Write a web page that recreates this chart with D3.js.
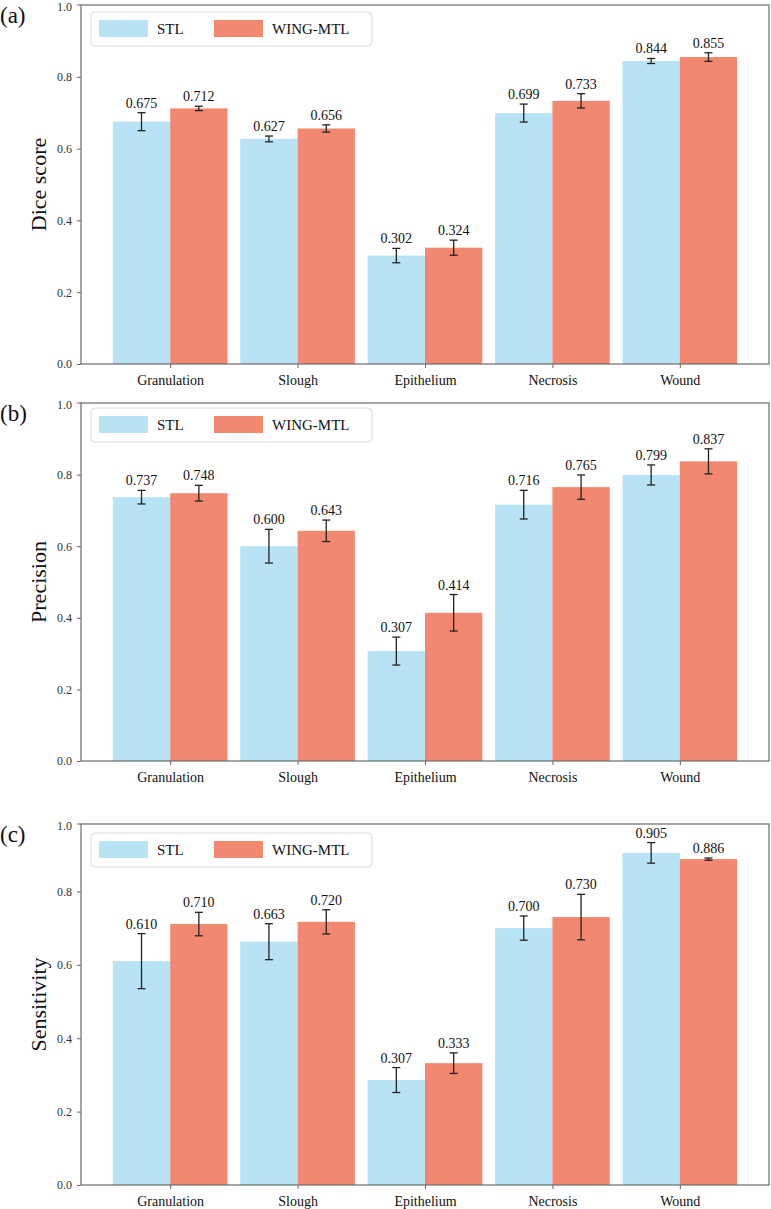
<!DOCTYPE html>
<html>
<head>
<meta charset="utf-8">
<script src="https://cdn.jsdelivr.net/npm/d3@7"></script>
<style>
  body { margin: 0; background: #fff; }
  svg { display: block; }
  svg text { font-family: "Liberation Serif", "Times New Roman", Times, serif; }
</style>
</head>
<body>
<div id="chart"></div>
<script>
// categories + series
const categories = ['Granulation', 'Slough', 'Epithelium', 'Necrosis', 'Wound'];
const seriesNames = ['STL', 'WING-MTL'];

// (a) dice score
const diceStl = [0.675, 0.627, 0.302, 0.699, 0.844];
const diceStlErr = [0.025, 0.008, 0.020, 0.025, 0.007];
const diceMtl = [0.712, 0.656, 0.324, 0.733, 0.855];
const diceMtlErr = [0.006, 0.010, 0.021, 0.020, 0.012];

// (b) precision
const precStl = [0.737, 0.600, 0.307, 0.716, 0.799];
const precStlErr = [0.019, 0.047, 0.039, 0.040, 0.028];
const precMtl = [0.748, 0.643, 0.414, 0.765, 0.837];
const precMtlErr = [0.022, 0.030, 0.051, 0.034, 0.035];

// (c) sensitivity - bar heights as drawn, printed labels kept separately
const sensStl = [0.610, 0.663, 0.286, 0.700, 0.905];
const sensStlErr = [0.075, 0.049, 0.034, 0.033, 0.028];
const sensStlLabels = ['0.610', '0.663', '0.307', '0.700', '0.905'];
const sensMtl = [0.711, 0.717, 0.332, 0.730, 0.888];
const sensMtlErr = [0.032, 0.033, 0.028, 0.062, 0.003];
const sensMtlLabels = ['0.710', '0.720', '0.333', '0.730', '0.886'];

const yTicks = [0, 0.2, 0.4, 0.6, 0.8, 1.0];

const colors = ['#b7e3f4', '#f2886f'];
const fmt = d3.format('.3f');

const width = 771;
const height = 1209;

const svg = d3.select('#chart')
    .append('svg')
    .attr('width', width)
    .attr('height', height);

// shared x scale, matplotlib-like xlim
const x = d3.scaleLinear()
    .domain([-0.7, 4.7])
    .range([81, 769]);
const barW = 0.45;

const panels = [
    {
        tag: '(a)', title: 'Dice score', frameTop: 5, yTop: 5, yBottom: 364, legendTop: 12,
        series: [
            { vals: diceStl, err: diceStlErr, labels: diceStl.map(fmt) },
            { vals: diceMtl, err: diceMtlErr, labels: diceMtl.map(fmt) }
        ]
    },
    {
        tag: '(b)', title: 'Precision', frameTop: 403, yTop: 403, yBottom: 761, legendTop: 408,
        series: [
            { vals: precStl, err: precStlErr, labels: precStl.map(fmt) },
            { vals: precMtl, err: precMtlErr, labels: precMtl.map(fmt) }
        ]
    },
    {
        // this panel is cropped at the top in the original
        tag: '(c)', title: 'Sensitivity', frameTop: 824, yTop: 818, yBottom: 1185, legendTop: 833,
        series: [
            { vals: sensStl, err: sensStlErr, labels: sensStlLabels },
            { vals: sensMtl, err: sensMtlErr, labels: sensMtlLabels }
        ]
    }
];

panels.forEach(p => {
    const g = svg.append('g');

    const y = d3.scaleLinear()
        .domain([0, 1])
        .range([p.yBottom, p.yTop]);

    p.series.forEach((s, si) => {
        const off = si === 0 ? -barW / 2 : barW / 2;

        // bars
        g.append('g').selectAll('rect')
            .data(categories)
            .enter()
            .append('rect')
            .attr('x', (d, i) => x(i + off - barW / 2))
            .attr('width', x(barW) - x(0))
            .attr('y', (d, i) => y(s.vals[i]))
            .attr('height', (d, i) => y(0) - y(s.vals[i]))
            .attr('fill', colors[si]);

        // error bars
        const eb = g.append('g')
            .attr('stroke', '#222')
            .attr('stroke-width', 1.3);

        categories.forEach((c, i) => {
            const cx = x(i + off);
            const lo = y(s.vals[i] - s.err[i]);
            const hi = y(s.vals[i] + s.err[i]);
            eb.append('line').attr('x1', cx).attr('x2', cx).attr('y1', lo).attr('y2', hi);
            eb.append('line').attr('x1', cx - 4).attr('x2', cx + 4).attr('y1', lo).attr('y2', lo);
            eb.append('line').attr('x1', cx - 4).attr('x2', cx + 4).attr('y1', hi).attr('y2', hi);
        });

        // value labels
        g.append('g').selectAll('text')
            .data(categories)
            .enter()
            .append('text')
            .attr('x', (d, i) => x(i + off))
            .attr('y', (d, i) => y(s.vals[i] + s.err[i]) - 5)
            .attr('text-anchor', 'middle')
            .attr('font-size', 14)
            .attr('fill', '#111')
            .text((d, i) => s.labels[i]);
    });

    // axes
    const xAxis = d3.axisBottom(x)
        .tickValues(d3.range(categories.length))
        .tickFormat(i => categories[i])
        .tickSize(4)
        .tickPadding(7);

    const yAxis = d3.axisLeft(y)
        .tickValues(yTicks)
        .tickFormat(d3.format('.1f'))
        .tickSize(4)
        .tickPadding(5);

    const xAxisGroup = g.append('g')
        .attr('transform', `translate(0, ${p.yBottom})`)
        .call(xAxis);

    const yAxisGroup = g.append('g')
        .attr('transform', `translate(${x(-0.7)}, 0)`)
        .call(yAxis);

    [xAxisGroup, yAxisGroup].forEach(a => {
        a.attr('font-family', null);
        a.select('.domain').remove();
        a.selectAll('line').attr('stroke', '#666');
        a.selectAll('text').attr('fill', '#111');
    });
    xAxisGroup.selectAll('text').attr('font-size', 14);
    yAxisGroup.selectAll('text').attr('font-size', 12).attr('fill', '#333');

    // cropped top: the 1.0 tick sits on the frame edge
    yAxisGroup.selectAll('.tick')
        .filter(d => d === 1)
        .attr('transform', `translate(0, ${p.frameTop})`)
        .select('text')
        .attr('dy', '0.5em');

    // frame
    g.append('rect')
        .attr('x', x(-0.7))
        .attr('y', p.frameTop)
        .attr('width', x(4.7) - x(-0.7))
        .attr('height', p.yBottom - p.frameTop)
        .attr('fill', 'none')
        .attr('stroke', '#6b6b6b')
        .attr('stroke-width', 1.2);

    // y title
    g.append('text')
        .attr('transform', `translate(46, ${(p.frameTop + p.yBottom) / 2}) rotate(-90)`)
        .attr('text-anchor', 'middle')
        .attr('font-size', 22)
        .attr('fill', '#111')
        .text(p.title);

    // panel tag
    g.append('text')
        .attr('x', 0)
        .attr('y', p.frameTop + 18)
        .attr('font-size', 23)
        .attr('fill', '#111')
        .text(p.tag);

    // legend
    const lg = g.append('g')
        .attr('transform', `translate(91, ${p.legendTop})`);

    lg.append('rect')
        .attr('width', 281)
        .attr('height', 34)
        .attr('rx', 4)
        .attr('fill', '#fff')
        .attr('fill-opacity', 0.85)
        .attr('stroke', '#dcdcdc');

    seriesNames.forEach((name, i) => {
        const lx = i === 0 ? 8 : 123;
        lg.append('rect')
            .attr('x', lx)
            .attr('y', 8)
            .attr('width', 49)
            .attr('height', 17)
            .attr('fill', colors[i]);
        lg.append('text')
            .attr('x', lx + 58)
            .attr('y', 22)
            .attr('font-size', 15)
            .attr('fill', '#111')
            .text(name);
    });
});
</script>
</body>
</html>
